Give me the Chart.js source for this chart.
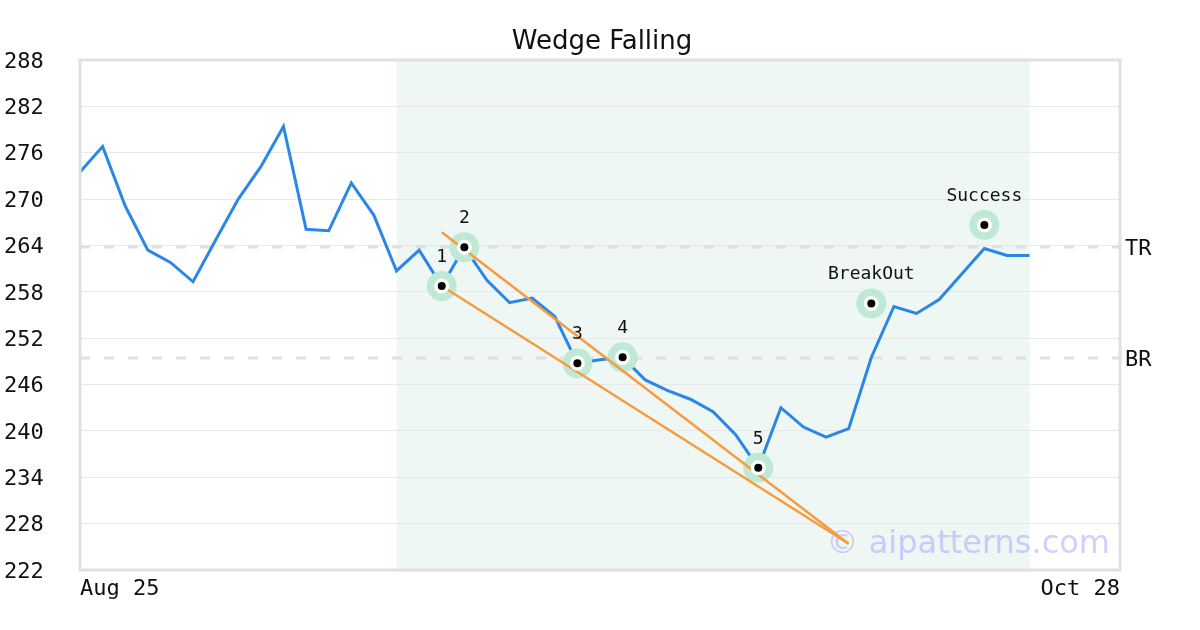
<!DOCTYPE html>
<html>
<head>
<meta charset="utf-8">
<title>Wedge Falling</title>
<script src="https://cdn.jsdelivr.net/npm/chart.js@4.4.1/dist/chart.umd.min.js"></script>
<style>
    html, body { margin: 0; padding: 0; background: #ffffff; }
    canvas { display: block; }
</style>
</head>
<body>
<canvas id="chart" width="1200" height="630"></canvas>
<script>
// Daily closes (index = trading day)
const priceValues = [
    273.5, 276.8, 269.1, 263.4, 261.8, 259.3, 264.7, 270.0, 274.2, 279.4,
    266.1, 265.9, 272.1, 267.9, 260.7, 263.4, 258.75, 263.76, 259.5, 256.6,
    257.2, 254.8, 248.75, 249.2, 249.52, 246.6, 245.2, 244.1, 242.5, 239.5,
    235.24, 243.0, 240.5, 239.2, 240.3, 249.5, 256.1, 255.2, 257.0, 260.3,
    263.6, 262.7, 262.7
];

// X axis: only the first and last dates are labelled
const xTickIndex = [0, 46];
const xTickLabels = ['Aug 25', 'Oct 28'];

// Y axis range
const yMin = 222;
const yMax = 288;
const yStep = 6;

// Shaded pattern window (day indexes)
const patternRange = [14, 42];

// Pivot markers
const pivotIndex = [16, 17, 22, 24, 30, 35, 40];
const pivotValues = [258.75, 263.76, 248.75, 249.52, 235.24, 256.5, 266.65];
const pivotLabels = ['1', '2', '3', '4', '5', 'BreakOut', 'Success'];

// Horizontal levels
const levelNames = ['TR', 'BR'];
const levelValues = [263.8, 249.45];

// Wedge trend lines
const upperWedgeX = [16, 34];
const upperWedgeY = [265.7, 225.4];
const lowerWedgeX = [16, 34];
const lowerWedgeY = [258.75, 225.4];

const MONO = '"DejaVu Sans Mono", monospace';
const SANS = '"DejaVu Sans", sans-serif';

function toPoints(xs, ys) {
    return xs.map((x, i) => ({ x: x, y: ys[i] }));
}

function markerSet(radius, color, order) {
    return {
        data: toPoints(pivotIndex, pivotValues),
        showLine: false,
        pointRadius: radius,
        pointHoverRadius: radius,
        pointBackgroundColor: color,
        pointBorderWidth: 0,
        order: order
    };
}

// Background shading, border, watermark and text labels
const decorPlugin = {
    id: 'decor',
    beforeDraw(chart) {
        const ctx = chart.ctx;
        const area = chart.chartArea;
        const x = chart.scales.x;
        ctx.save();
        ctx.fillStyle = '#ffffff';
        ctx.fillRect(0, 0, chart.width, chart.height);
        const x0 = x.getPixelForValue(patternRange[0]);
        const x1 = x.getPixelForValue(patternRange[1]);
        ctx.fillStyle = '#eef7f3';
        ctx.fillRect(x0, area.top, x1 - x0, area.bottom - area.top);
        ctx.restore();
    },
    beforeDatasetsDraw(chart) {
        const ctx = chart.ctx;
        const area = chart.chartArea;
        ctx.save();
        ctx.font = '32px ' + SANS;
        ctx.fillStyle = 'rgba(150, 150, 255, 0.45)';
        ctx.textAlign = 'right';
        ctx.textBaseline = 'alphabetic';
        ctx.fillText('\u00A9 aipatterns.com', area.right - 10, area.bottom - 17);
        ctx.restore();
    },
    afterDatasetsDraw(chart) {
        const ctx = chart.ctx;
        const area = chart.chartArea;
        const x = chart.scales.x;
        const y = chart.scales.y;
        ctx.save();

        // plot frame
        ctx.strokeStyle = '#e0e0e0';
        ctx.lineWidth = 3;
        ctx.strokeRect(area.left, area.top, area.right - area.left, area.bottom - area.top);

        // pivot labels
        ctx.fillStyle = '#111111';
        ctx.font = '18px ' + MONO;
        ctx.textAlign = 'center';
        ctx.textBaseline = 'alphabetic';
        pivotLabels.forEach((label, i) => {
            ctx.fillText(label, x.getPixelForValue(pivotIndex[i]), y.getPixelForValue(pivotValues[i]) - 24);
        });

        // level labels
        ctx.font = '22px ' + MONO;
        ctx.textAlign = 'left';
        levelNames.forEach((name, i) => {
            ctx.fillText(name, area.right + 5, y.getPixelForValue(levelValues[i]) + 8);
        });
        ctx.restore();
    }
};

const datasets = [];

levelValues.forEach(v => {
    datasets.push({
        data: toPoints(xTickIndex, [v, v]),
        borderColor: '#e0e0e0',
        borderWidth: 3,
        borderDash: [10, 14],
        pointRadius: 0,
        order: 6
    });
});

datasets.push({
    data: priceValues.map((v, i) => ({ x: i, y: v })),
    borderColor: '#2b87e6',
    borderWidth: 3,
    pointRadius: 0,
    tension: 0,
    order: 5
});

datasets.push(markerSet(15, '#c0e9d5', 4));

[[upperWedgeX, upperWedgeY], [lowerWedgeX, lowerWedgeY]].forEach(w => {
    datasets.push({
        data: toPoints(w[0], w[1]),
        borderColor: '#f79b3f',
        borderWidth: 2.5,
        pointRadius: 0,
        order: 3
    });
});

datasets.push(markerSet(7.5, '#ffffff', 2));
datasets.push(markerSet(4, '#000000', 1));

new Chart(document.getElementById('chart'), {
    type: 'line',
    data: { datasets: datasets },
    plugins: [decorPlugin],
    options: {
        responsive: false,
        animation: false,
        events: [],
        devicePixelRatio: 1,
        layout: { padding: { left: 4, right: 0, top: 0, bottom: 0 } },
        plugins: {
            legend: { display: false },
            tooltip: { enabled: false },
            title: {
                display: true,
                text: 'Wedge Falling',
                color: '#111111',
                font: { family: SANS, size: 26, weight: 'normal', lineHeight: 1.2 },
                padding: { top: 27, bottom: 1.8 }
            }
        },
        scales: {
            x: {
                type: 'linear',
                min: xTickIndex[0],
                max: xTickIndex[1],
                grid: { display: false, drawTicks: false },
                border: { display: false },
                afterBuildTicks: scale => {
                    scale.ticks = xTickIndex.map(v => ({ value: v }));
                },
                afterFit: scale => { scale.height = 60; },
                ticks: {
                    align: 'inner',
                    maxRotation: 0,
                    padding: 6,
                    color: '#111111',
                    font: { family: MONO, size: 22 },
                    callback: value => xTickLabels[xTickIndex.indexOf(value)]
                }
            },
            y: {
                min: yMin,
                max: yMax,
                grid: { color: '#e8e8e8', lineWidth: 1, drawTicks: false },
                border: { display: false },
                afterFit: scale => { scale.width = 76; },
                ticks: {
                    stepSize: yStep,
                    crossAlign: 'far',
                    labelOffset: 2,
                    color: '#111111',
                    font: { family: MONO, size: 22 }
                }
            },
            // empty right gutter that holds the TR / BR labels
            yRight: {
                position: 'right',
                min: yMin,
                max: yMax,
                grid: { display: false, drawTicks: false },
                border: { display: false },
                ticks: { display: false },
                afterFit: scale => { scale.width = 80; }
            }
        }
    }
});
</script>
</body>
</html>
